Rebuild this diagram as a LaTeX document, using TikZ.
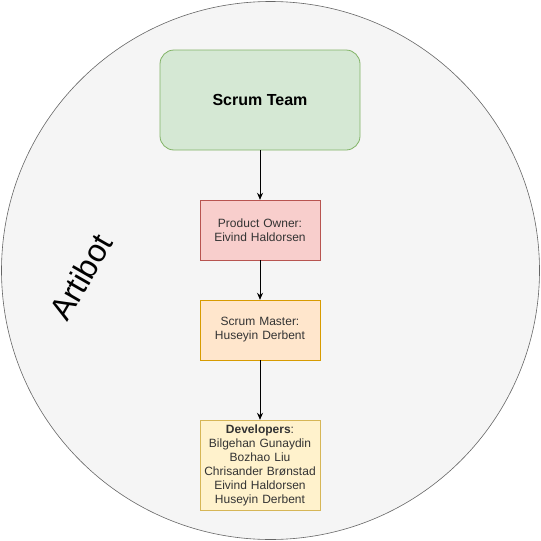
\documentclass[tikz,border=0pt]{standalone}
\usepackage{fontspec}
\setmainfont{Liberation Sans}
\usetikzlibrary{arrows.meta}
\definecolor{circfill}{HTML}{F5F5F5}
\definecolor{circline}{HTML}{666666}
\definecolor{gfill}{HTML}{D5E8D4}
\definecolor{gline}{HTML}{82B366}
\definecolor{rfill}{HTML}{F8CECC}
\definecolor{rline}{HTML}{B85450}
\definecolor{ofill}{HTML}{FFE6CC}
\definecolor{oline}{HTML}{D79B00}
\definecolor{yfill}{HTML}{FFF2CC}
\definecolor{yline}{HTML}{D6B656}
\definecolor{txt}{HTML}{333333}
\tikzset{
  role/.style={draw, minimum width=120pt, text width=118pt, align=center, font=\fontsize{12}{14}\selectfont, text=txt, inner sep=0pt},
  conn/.style={-{Stealth[length=7pt,width=6pt]}, line width=0.8pt}
}
\begin{document}
\begin{tikzpicture}[x=1pt,y=-1pt]
\useasboundingbox (0,0) rectangle (541,541);
\node[circle, draw=circline, fill=circfill, minimum size=538pt, inner sep=0pt, line width=0.6pt] (circ) at (270.5,270.5) {};
\node[rotate=60, font=\fontsize{32}{36}\selectfont] (artibot) at (81,277) {Artibot};
\node[draw=gline, fill=gfill, rounded corners=14pt, minimum width=200pt, minimum height=100pt, font=\bfseries\fontsize{16}{19}\selectfont, line width=0.8pt] (team) at (260,100) {Scrum Team};
\node[role, draw=rline, fill=rfill, minimum height=60pt] (po) at (260,230) {Product Owner:\\Eivind Haldorsen};
\node[role, draw=oline, fill=ofill, minimum height=60pt] (sm) at (260,330) {Scrum Master:\\Huseyin Derbent};
\node[role, draw=yline, fill=yfill, minimum height=90pt] (dev) at (260,465) {\textbf{Developers}:\\Bilgehan Gunaydin\\Bozhao Liu\\Chrisander Brønstad\\Eivind Haldorsen\\Huseyin Derbent};
\draw[conn] (team) -- (po);
\draw[conn] (po) -- (sm);
\draw[conn] (sm) -- (dev);
\end{tikzpicture}
\end{document}
